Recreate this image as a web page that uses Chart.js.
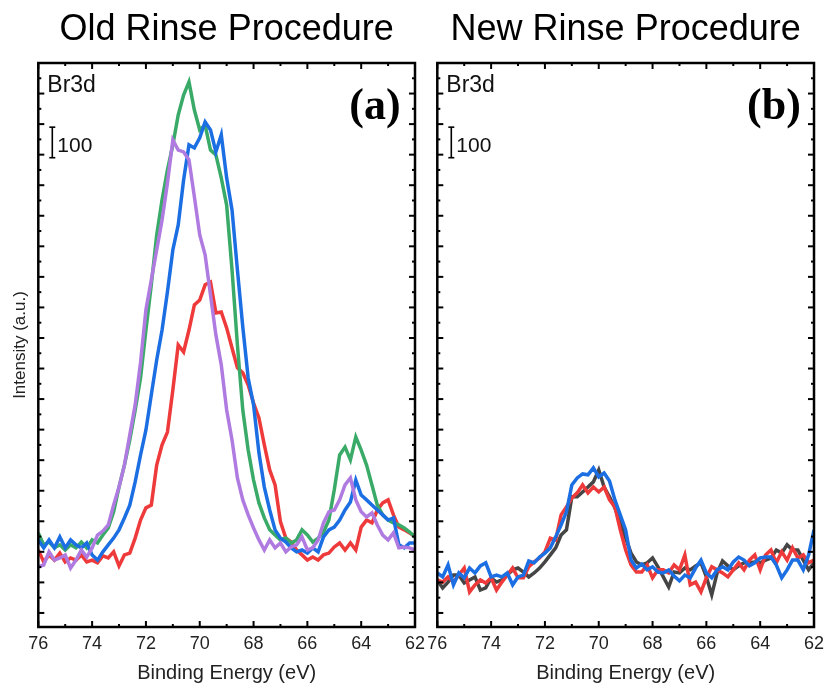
<!DOCTYPE html>
<html>
<head>
<meta charset="utf-8">
<title>Br3d rinse comparison</title>
<script src="https://cdn.jsdelivr.net/npm/chart.js@4.4.1/dist/chart.umd.min.js"></script>
<style>
    html, body { margin: 0; padding: 0; background: #fff; }
    #wrap { position: relative; width: 824px; height: 686px; }
    #wrap canvas { position: absolute; left: 0; top: 0; }
</style>
</head>
<body>
<div id="wrap">
    <canvas id="old-chart" width="824" height="686"></canvas>
    <canvas id="new-chart" width="824" height="686"></canvas>
</div>
<script>
// ------------------------------------------------------
// @Data (binding energy in eV, intensity in counts)
// ------------------------------------------------------

const energy = [
    76, 75.8, 75.6, 75.4, 75.2, 75, 74.8, 74.6, 74.4, 74.2,
    74, 73.8, 73.6, 73.4, 73.2, 73, 72.8, 72.6, 72.4, 72.2,
    72, 71.8, 71.6, 71.4, 71.2, 71, 70.8, 70.6, 70.4, 70.2,
    70, 69.8, 69.6, 69.4, 69.2, 69, 68.8, 68.6, 68.4, 68.2,
    68, 67.8, 67.6, 67.4, 67.2, 67, 66.8, 66.6, 66.4, 66.2,
    66, 65.8, 65.6, 65.4, 65.2, 65, 64.8, 64.6, 64.4, 64.2,
    64, 63.8, 63.6, 63.4, 63.2, 63, 62.8, 62.6, 62.4, 62.2,
    62,
];

const xTicks = [76, 74, 72, 70, 68, 66, 64, 62];

// old rinse procedure
const oldRed = [
    206, 167, 190, 173, 196, 167, 180, 173, 190, 167,
    173, 164, 187, 180, 200, 154, 190, 196, 245, 304,
    344, 353, 484, 550, 592, 730, 877, 854, 926, 1008,
    1024, 1074, 1083, 982, 985, 933, 867, 802, 786, 746,
    687, 638, 550, 468, 419, 298, 245, 232, 206, 190,
    173, 183, 173, 190, 196, 216, 229, 206, 229, 206,
    281, 304, 295, 337, 360, 370, 321, 281, 272, 262,
    249,
];
const oldGreen = [
    262, 223, 232, 213, 223, 206, 223, 213, 232, 213,
    239, 229, 255, 278, 331, 412, 484, 566, 664, 769,
    926, 1074, 1237, 1352, 1450, 1532, 1630, 1695, 1738, 1646,
    1581, 1597, 1515, 1499, 1424, 1335, 1123, 877, 664, 533,
    435, 360, 311, 272, 255, 239, 245, 229, 239, 272,
    255, 232, 245, 265, 304, 403, 517, 543, 501, 576,
    533, 484, 419, 353, 321, 304, 295, 288, 278, 265,
    249,
];
const oldBlue = [
    239, 213, 239, 213, 249, 213, 239, 223, 213, 229,
    190, 173, 200, 223, 245, 272, 311, 353, 429, 517,
    599, 714, 828, 926, 1051, 1188, 1270, 1417, 1532, 1522,
    1555, 1607, 1581, 1509, 1565, 1424, 1319, 1123, 936, 769,
    681, 524, 412, 337, 272, 245, 232, 213, 200, 206,
    196, 213, 200, 249, 272, 281, 304, 337, 363, 435,
    386, 370, 353, 337, 321, 304, 311, 223, 213, 229,
    229,
];
const oldPurple = [
    151, 157, 200, 173, 180, 190, 147, 173, 206, 183,
    213, 255, 268, 288, 353, 412, 484, 583, 681, 820,
    992, 1090, 1188, 1286, 1407, 1548, 1515, 1509, 1483, 1362,
    1237, 1172, 1041, 910, 812, 664, 566, 442, 370, 321,
    278, 239, 206, 239, 213, 229, 200, 216, 223, 249,
    206, 213, 239, 295, 331, 337, 370, 419, 442, 370,
    331, 314, 327, 288, 255, 239, 262, 213, 216, 213,
    206,
];

// new rinse procedure
const newGray = [
    108, 82, 101, 124, 124, 98, 108, 118, 75, 82,
    115, 101, 108, 124, 141, 147, 134, 118, 131, 147,
    167, 190, 213, 255, 272, 380, 380, 396, 412, 429,
    468, 412, 380, 344, 298, 245, 196, 167, 157, 164,
    180, 151, 118, 85, 134, 131, 147, 141, 154, 164,
    118, 59, 131, 170, 154, 141, 154, 164, 164, 167,
    164, 173, 180, 206, 196, 223, 206, 206, 173, 141,
    164,
];
const newRed = [
    108, 101, 118, 101, 124, 147, 69, 92, 108, 98,
    115, 75, 101, 124, 147, 115, 115, 151, 167, 180,
    200, 245, 239, 321, 347, 376, 393, 419, 393, 412,
    396, 412, 370, 347, 272, 206, 157, 134, 134, 157,
    115, 141, 141, 131, 157, 141, 190, 92, 101, 69,
    115, 151, 141, 131, 118, 141, 164, 141, 173, 190,
    141, 190, 206, 164, 200, 173, 213, 180, 190, 164,
    173,
];
const newBlue = [
    131, 118, 157, 92, 131, 115, 147, 131, 154, 164,
    118, 124, 118, 131, 92, 118, 124, 170, 164, 183,
    196, 213, 249, 288, 331, 419, 442, 455, 452, 475,
    445, 458, 432, 370, 321, 272, 173, 147, 160, 141,
    151, 134, 131, 141, 121, 105, 124, 115, 147, 173,
    131, 115, 141, 151, 141, 167, 183, 173, 154, 164,
    180, 183, 183, 157, 115, 141, 173, 173, 141, 190,
    272,
];

// scale bar: 100 counts
const scaleBarFrom = 1490;
const scaleBarSize = 100;

// ------------------------------------------------------
// @Helpers
// ------------------------------------------------------

const FONT = '"Liberation Sans", Arial, sans-serif';
const COLORS = {
    red    : '#ee3a3a',
    green  : '#3aaa68',
    blue   : '#1c6fe3',
    purple : '#b07be0',
    gray   : '#454545',
};

const toPoints = values => values.map((v, i) => ({ x: energy[i], y: v }));

const line = (label, values, color) => ({
    label,
    data            : toPoints(values),
    borderColor     : color,
    backgroundColor : color,
    borderWidth     : 3.5,
    pointRadius     : 0,
    tension         : 0,
});

// frame with inward ticks, plus the panel annotations
const framePlugin = {
    id: 'frame',
    afterDatasetsDraw(chart, args, opts) {
        const { ctx, chartArea: a, scales: { x, y } } = chart;
        const seg = (x1, y1, x2, y2) => {
            ctx.beginPath();
            ctx.moveTo(x1, y1);
            ctx.lineTo(x2, y2);
            ctx.stroke();
        };

        ctx.save();
        ctx.strokeStyle = '#000';
        ctx.lineWidth = 2;

        for (let v = x.min; v <= x.max; v += 1) {
            const px = x.getPixelForValue(v);
            const len = v % 2 === 0 ? 6 : 3;
            seg(px, a.bottom, px, a.bottom - len);
            seg(px, a.top, px, a.top + len);
        }
        for (let v = 0; v <= y.max; v += 50) {
            const py = y.getPixelForValue(v);
            const len = v % 100 === 0 ? 6 : 3;
            seg(a.left, py, a.left + len, py);
            seg(a.right, py, a.right - len, py);
        }

        ctx.lineWidth = 2.5;
        ctx.strokeRect(a.left, a.top, a.right - a.left, a.bottom - a.top);

        // scale bar
        const bx = a.left + 14;
        const b1 = y.getPixelForValue(scaleBarFrom);
        const b2 = y.getPixelForValue(scaleBarFrom + scaleBarSize);
        ctx.lineWidth = 1.6;
        seg(bx, b1, bx, b2);
        seg(bx - 3, b1, bx + 3, b1);
        seg(bx - 3, b2, bx + 3, b2);

        ctx.fillStyle = '#111';
        ctx.textBaseline = 'alphabetic';
        ctx.textAlign = 'left';
        ctx.font = '21px ' + FONT;
        ctx.fillText(String(scaleBarSize), a.left + 19, b1 - 6);

        ctx.font = '23px ' + FONT;
        ctx.fillText('Br3d', a.left + 9, 92);

        ctx.textAlign = 'center';
        ctx.textBaseline = 'middle';
        ctx.fillStyle = '#000';
        ctx.font = 'bold 44px "Liberation Serif", "Times New Roman", serif';
        ctx.fillText(opts.tag, a.right - 40, 108);

        ctx.restore();
    },
};

const makeOptions = (title, tag, padLeft, padRight, showYTitle) => ({
    responsive : false,
    animation  : false,
    layout: {
        padding: { left: padLeft, right: padRight, top: 0, bottom: 0 },
    },
    plugins: {
        legend  : { display: false },
        tooltip : { enabled: false },
        title: {
            display  : true,
            text     : title,
            fullSize : false,
            color    : '#000',
            font     : { family: FONT, size: 36, weight: 'normal' },
            padding  : { top: 8.4, bottom: 11.4 },
        },
        frame: { tag },
    },
    scales: {
        x: {
            type    : 'linear',
            reverse : true,
            min     : 62,
            max     : 76,
            grid    : { display: false, drawTicks: false },
            border  : { display: false },
            afterBuildTicks: scale => {
                scale.ticks = xTicks.map(v => ({ value: v }));
            },
            afterFit: scale => {
                scale.height = 59;
                scale.paddingLeft = 0;
                scale.paddingRight = 0;
            },
            ticks: {
                color       : '#222',
                padding     : 6,
                maxRotation : 0,
                font        : { family: FONT, size: 18 },
            },
            title: {
                display : true,
                text    : 'Binding Energy (eV)',
                color   : '#222',
                padding : { top: 0, bottom: 1 },
                font    : { family: FONT, size: 20 },
            },
        },
        y: {
            min     : -46,
            max     : 1800,
            grid    : { display: false, drawTicks: false },
            border  : { display: false },
            ticks   : { display: false },
            afterFit: scale => { scale.width = 38.3; },
            title: {
                display : showYTitle,
                text    : 'Intensity (a.u.)',
                color   : '#222',
                padding : { top: 10, bottom: 0 },
                font    : { family: FONT, size: 17 },
            },
        },
    },
});

// ------------------------------------------------------
// @Old Rinse Procedure
// ------------------------------------------------------

const oldBox = document.getElementById('old-chart');

if (oldBox) {
    // first dataset is drawn on top
    new Chart(oldBox.getContext('2d'), {
        type: 'line',
        data: {
            datasets: [
                line('Purple', oldPurple, COLORS.purple),
                line('Blue', oldBlue, COLORS.blue),
                line('Green', oldGreen, COLORS.green),
                line('Red', oldRed, COLORS.red),
            ],
        },
        options: makeOptions('Old Rinse Procedure', '(a)', 0, 409, true),
        plugins: [framePlugin],
    });
}

// ------------------------------------------------------
// @New Rinse Procedure
// ------------------------------------------------------

const newBox = document.getElementById('new-chart');

if (newBox) {
    new Chart(newBox.getContext('2d'), {
        type: 'line',
        data: {
            datasets: [
                line('Blue', newBlue, COLORS.blue),
                line('Red', newRed, COLORS.red),
                line('Gray', newGray, COLORS.gray),
            ],
        },
        options: makeOptions('New Rinse Procedure', '(b)', 399, 10, false),
        plugins: [framePlugin],
    });
}
</script>
</body>
</html>
